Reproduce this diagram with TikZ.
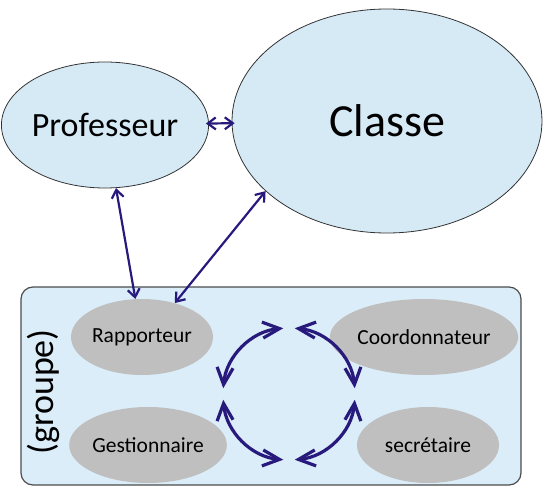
\documentclass[tikz,border=0pt]{standalone}
\usepackage{fontspec}
\setmainfont{Carlito}
\usetikzlibrary{shapes.geometric,arrows.meta}
\definecolor{paleblue}{RGB}{214,234,246}
\definecolor{boxblue}{RGB}{219,237,248}
\definecolor{rolegray}{RGB}{191,191,191}
\definecolor{linkblue}{RGB}{40,26,125}

\begin{document}
\begin{tikzpicture}[x=1pt,y=1pt,
		bigball/.style={ellipse, draw=black!80, line width=0.8pt, fill=paleblue, inner sep=0pt},
		role/.style={ellipse, fill=rolegray, inner sep=0pt, minimum width=142pt, minimum height=76pt, font=\fontsize{21.5}{24}\selectfont},
		link/.style={linkblue, line width=2.2pt, {Straight Barb[length=8pt,width=12pt]}-{Straight Barb[length=8pt,width=12pt]}},
		ring/.style={linkblue, line width=3.2pt, {Straight Barb[length=17pt,width=16pt]}-{Straight Barb[length=17pt,width=16pt]}}]
		\useasboundingbox (0,0) rectangle (549,488);
		
		% THE GROUP BOX
		\filldraw[fill=boxblue, draw=black!70, line width=1.2pt, rounded corners=12pt] (21,3) rectangle (521,201);
		\node[rotate=90, font=\fontsize{36}{40}\selectfont] (groupe) at (43,96) {(groupe)};
		
		% THE TWO BIG ELLIPSES
		\node[bigball, minimum width=176pt, minimum height=126pt, font=\fontsize{34}{38}\selectfont] (prof) at (105,363) {Professeur};
		\node[bigball, minimum width=310pt, minimum height=224pt, font=\fontsize{46}{50}\selectfont] (classe) at (387,367) {Classe};
		
		% THE ROLES
		\node[role] (rap) at (142,151) {Rapporteur};
		\node[role] (gest) at (148,43) {Gestionnaire};
		\node[role, minimum width=144pt] (coord) at (424,151) {Coordonnateur};
		\node[role] (secr) at (428,43) {secrétaire};
		
		% CONNECTORS
		\draw[link, shorten <=-3pt, shorten >=-3pt] (prof) -- (classe);
		\draw[link] (prof) -- (rap);
		\draw[link] (classe.210) -- (rap.46);
		
		% THE RING OF ARROWS
		\coordinate (cyc) at (289,94);
		\draw[ring] ([shift={(175:66)}]cyc) arc[start angle=175, end angle=95, radius=66];
		\draw[ring] ([shift={(85:66)}]cyc) arc[start angle=85, end angle=5, radius=66];
		\draw[ring] ([shift={(-5:66)}]cyc) arc[start angle=-5, end angle=-85, radius=66];
		\draw[ring] ([shift={(-95:66)}]cyc) arc[start angle=-95, end angle=-175, radius=66];
	\end{tikzpicture}
\end{document}
